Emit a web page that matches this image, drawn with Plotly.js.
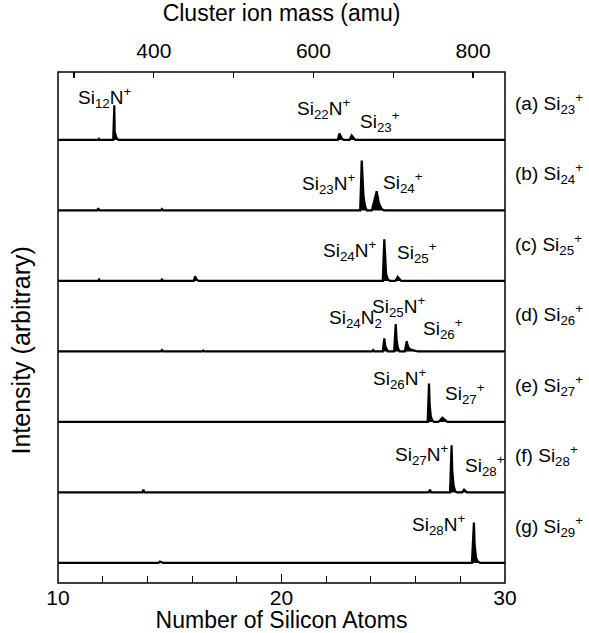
<!DOCTYPE html>
<html>
<head>
<meta charset="utf-8">
<script src="https://cdn.plot.ly/plotly-3.0.1.min.js"></script>
<style>html,body{margin:0;padding:0;background:#fff;}</style>
</head>
<body>
<div id="chart" style="width:589px;height:633px;"></div>
<script>
// ---- Data (Number of Si atoms vs arbitrary intensity) ----
var panelA_x = [10, 11.8, 11.83, 11.86, 12.47, 12.52, 12.535, 12.6, 12.7, 14.6, 14.65, 14.7, 22.52, 22.59, 22.63, 22.7, 22.78, 23.04, 23.14, 23.2, 23.3, 30];
var panelA_y = [0, 0, 0.015, 0, 0, 0.51, 0.13, 0.04, 0, 0, 0.01, 0, 0, 0.095, 0.06, 0.02, 0, 0, 0.065, 0.04, 0, 0];

var panelB_x = [10, 11.75, 11.8, 11.85, 14.6, 14.65, 14.7, 23.52, 23.59, 23.62, 23.67, 23.74, 23.82, 24.04, 24.26, 24.36, 24.48, 24.6, 30];
var panelB_y = [0, 0, 0.03, 0, 0, 0.02, 0, 0, 0.73, 0.42, 0.2, 0.06, 0, 0, 0.28, 0.1, 0.02, 0, 0];

var panelC_x = [10, 11.8, 11.84, 11.88, 14.6, 14.65, 14.7, 16.08, 16.13, 16.2, 16.3, 24.53, 24.60, 24.63, 24.68, 24.75, 24.84, 25.1, 25.2, 25.28, 25.36, 30];
var panelC_y = [0, 0, 0.02, 0, 0, 0.02, 0, 0, 0.07, 0.02, 0, 0, 0.61, 0.3, 0.1, 0.03, 0, 0, 0.06, 0.03, 0, 0];

var panelD_x = [10, 14.6, 14.65, 14.7, 16.45, 16.5, 16.55, 24.05, 24.1, 24.15, 24.53, 24.6, 24.64, 24.7, 24.76, 25.04, 25.11, 25.15, 25.2, 25.28, 25.52, 25.6, 25.66, 25.75, 25.85, 26.0, 26.1, 30];
var panelD_y = [0, 0, 0.02, 0, 0, 0.015, 0, 0, 0.02, 0, 0, 0.19, 0.08, 0.03, 0, 0, 0.40, 0.18, 0.06, 0, 0, 0.15, 0.07, 0.03, 0.02, 0.01, 0, 0];

var panelE_x = [10, 24.1, 24.15, 24.2, 26.54, 26.60, 26.63, 26.68, 26.75, 26.82, 27.02, 27.2, 27.3, 27.42, 30];
var panelE_y = [0, 0, 0.01, 0, 0, 0.56, 0.25, 0.08, 0.02, 0, 0, 0.06, 0.03, 0, 0];

var panelF_x = [10, 13.77, 13.82, 13.87, 26.58, 26.64, 26.7, 27.54, 27.61, 27.64, 27.7, 27.77, 27.86, 28.08, 28.17, 28.24, 28.3, 30];
var panelF_y = [0, 0, 0.04, 0, 0, 0.04, 0, 0, 0.69, 0.32, 0.1, 0.02, 0, 0, 0.04, 0.02, 0, 0];

var panelG_x = [10, 14.5, 14.56, 14.7, 28.52, 28.61, 28.64, 28.7, 28.78, 28.9, 30];
var panelG_y = [0, 0, 0.02, 0, 0, 0.59, 0.28, 0.08, 0.02, 0, 0];

var panelNames = ['(a) Si<sub>23</sub><sup>+</sup>', '(b) Si<sub>24</sub><sup>+</sup>', '(c) Si<sub>25</sub><sup>+</sup>',
                  '(d) Si<sub>26</sub><sup>+</sup>', '(e) Si<sub>27</sub><sup>+</sup>', '(f) Si<sub>28</sub><sup>+</sup>',
                  '(g) Si<sub>29</sub><sup>+</sup>'];

// peak labels per panel: text, x (atoms), y (intensity)
var peakText = [
  ['Si<sub>12</sub>N<sup>+</sup>', 'Si<sub>22</sub>N<sup>+</sup>', 'Si<sub>23</sub><sup>+</sup>'],
  ['Si<sub>23</sub>N<sup>+</sup>', 'Si<sub>24</sub><sup>+</sup>'],
  ['Si<sub>24</sub>N<sup>+</sup>', 'Si<sub>25</sub><sup>+</sup>'],
  ['Si<sub>24</sub>N<sub>2</sub>', 'Si<sub>25</sub>N<sup>+</sup>', 'Si<sub>26</sub><sup>+</sup>'],
  ['Si<sub>26</sub>N<sup>+</sup>', 'Si<sub>27</sub><sup>+</sup>'],
  ['Si<sub>27</sub>N<sup>+</sup>', 'Si<sub>28</sub><sup>+</sup>'],
  ['Si<sub>28</sub>N<sup>+</sup>']
];
var peakX = [[12.1, 21.87, 24.41], [22.09, 25.45], [23.06, 26.05], [23.29, 25.23, 27.24], [25.30, 28.21], [26.27, 29.1], [27.02]];
var peakY = [[0.62, 0.46, 0.27], [0.39, 0.41], [0.45, 0.42], [0.48, 0.65, 0.33], [0.63, 0.41], [0.55, 0.40], [0.56]];

// top axis (cluster ion mass, amu)
var massTicks = [300, 400, 500, 600, 700, 800];
var massTickLabels = ['', '400', '', '600', '', '800'];

// ---- Build figure ----
var xs = [panelA_x, panelB_x, panelC_x, panelD_x, panelE_x, panelF_x, panelG_x];
var ys = [panelA_y, panelB_y, panelC_y, panelD_y, panelE_y, panelF_y, panelG_y];

var FONT = 'Liberation Sans, Arial, sans-serif';
var H = 511, bottomPad = 18, panelH = 70.5;
var traces = [];
var layout = {
  width: 589, height: 633,
  margin: {l: 58, r: 84, t: 72, b: 50},
  paper_bgcolor: '#fff', plot_bgcolor: '#fff',
  showlegend: false,
  font: {family: FONT, color: '#000', size: 20},
  annotations: [], shapes: []
};

for (var i = 0; i < 7; i++) {
  var yName = i === 0 ? 'y' : 'y' + (i + 1);
  var yKey = i === 0 ? 'yaxis' : 'yaxis' + (i + 1);
  var base = bottomPad + panelH * (6 - i);
  layout[yKey] = {
    domain: [base / H, Math.min(1, (base + panelH) / H)],
    range: [-0.03, 1.0], visible: false, fixedrange: true, anchor: 'x'
  };
  traces.push({
    type: 'scatter', mode: 'lines', x: xs[i], y: ys[i], xaxis: 'x', yaxis: yName,
    line: {color: '#000', width: 2.2, shape: 'linear'}, fill: 'tozeroy', fillcolor: '#000',
    hoverinfo: 'skip'
  });
  for (var j = 0; j < peakText[i].length; j++) {
    layout.annotations.push({
      text: peakText[i][j], x: peakX[i][j], y: peakY[i][j], xref: 'x', yref: yName,
      showarrow: false, xanchor: 'center', yanchor: 'middle', font: {size: 19, family: FONT, color: '#000'}
    });
  }
  layout.annotations.push({
    text: panelNames[i], x: 1, y: 0.55, xref: 'paper', yref: yName + ' domain',
    xanchor: 'left', yanchor: 'middle', xshift: 8, showarrow: false,
    font: {size: 19, family: FONT, color: '#000'}
  });
}

layout.xaxis = {
  range: [10, 30], anchor: 'free', position: 0, side: 'bottom',
  tick0: 10, dtick: 10, ticks: 'inside', ticklen: 9, tickwidth: 1.2, tickcolor: '#000',
  minor: {dtick: 2, ticks: 'inside', ticklen: 7, tickwidth: 1.2, tickcolor: '#000'},
  showgrid: false, zeroline: false, showline: false,
  tickfont: {size: 21, family: FONT, color: '#000'},
  title: {text: 'Number of Silicon Atoms', font: {size: 23, family: FONT, color: '#000'}, standoff: 2}
};
layout.xaxis2 = {
  range: [280, 840], overlaying: 'x', anchor: 'y', side: 'top',
  tickvals: massTicks, ticktext: massTickLabels,
  ticks: 'inside', ticklen: 6, tickwidth: 1.2, tickcolor: '#000',
  ticklabelstandoff: 9,
  showgrid: false, zeroline: false, showline: false,
  tickfont: {size: 21, family: FONT, color: '#000'},
  title: {text: 'Cluster ion mass (amu)', font: {size: 23, family: FONT, color: '#000'}, standoff: 10}
};
// dummy invisible trace to register top axis
traces.push({type: 'scatter', mode: 'none', x: [], y: [], xaxis: 'x2', yaxis: 'y', hoverinfo: 'skip'});

layout.shapes.push({type: 'rect', xref: 'paper', yref: 'paper', x0: 0, x1: 1, y0: 0, y1: 1,
  line: {color: '#000', width: 1.5}, fillcolor: 'rgba(0,0,0,0)'});

layout.annotations.push({
  text: 'Intensity (arbitrary)', textangle: -90, x: 0, y: 0.455, xref: 'paper', yref: 'paper',
  xanchor: 'center', yanchor: 'middle', xshift: -37, showarrow: false,
  font: {size: 25, family: FONT, color: '#000'}
});

Plotly.newPlot('chart', traces, layout, {staticPlot: true, displayModeBar: false});
</script>
</body>
</html>
